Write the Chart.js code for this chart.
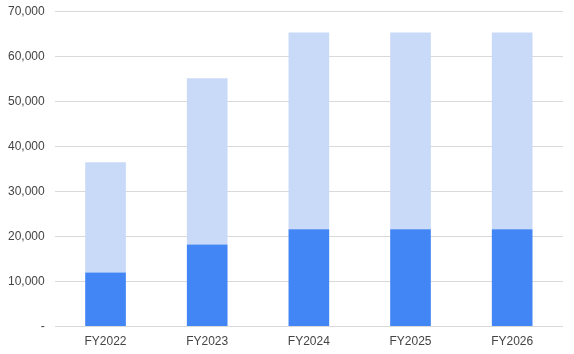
<!DOCTYPE html>
<html>
<head>
<meta charset="utf-8">
<script src="https://cdn.jsdelivr.net/npm/chart.js@4"></script>
<style>
  html, body { margin: 0; padding: 0; background: #fff; overflow: hidden; }
  #wrap { width: 574px; height: 360px; position: relative; top: -6px; }
</style>
</head>
<body>
<div id="wrap"><canvas id="chart"></canvas></div>
<script>
// --- data ---
const categories = ['FY2022', 'FY2023', 'FY2024', 'FY2025', 'FY2026'];
const baseValues = [12000, 18200, 21600, 21600, 21600];   // dark blue, bottom
const topValues  = [24500, 36900, 43700, 43700, 43700];   // light blue, stacked on top
const yTicks = [0, 10000, 20000, 30000, 40000, 50000, 60000, 70000];

const ctx = document.getElementById('chart').getContext('2d');
new Chart(ctx, {
    type: 'bar',
    data: {
        labels: categories,
        datasets: [
            { data: baseValues, backgroundColor: '#4285f4', barPercentage: 0.4, categoryPercentage: 1 },
            { data: topValues, backgroundColor: '#c9daf8', barPercentage: 0.4, categoryPercentage: 1 }
        ]
    },
    options: {
        responsive: true,
        maintainAspectRatio: false,
        animation: false,
        layout: { padding: { left: -2, right: 11, top: 0, bottom: -3 } },
        plugins: { legend: { display: false }, tooltip: { enabled: false } },
        scales: {
            x: {
                stacked: true,
                grid: { display: false, drawTicks: false },
                border: { display: false },
                ticks: { color: '#444', font: { family: 'Liberation Sans, Arial', size: 12 }, padding: 8 }
            },
            y: {
                stacked: true,
                min: 0,
                max: 70000,
                afterBuildTicks: axis => { axis.ticks = yTicks.map(v => ({ value: v })); },
                grid: { color: '#d9d9d9', drawTicks: false },
                border: { display: false },
                ticks: {
                    color: '#444',
                    font: { family: 'Liberation Sans, Arial', size: 12 },
                    padding: 10,
                    callback: v => v === 0 ? '-' : v.toLocaleString('en-US')
                }
            }
        }
    }
});
</script>
</body>
</html>
